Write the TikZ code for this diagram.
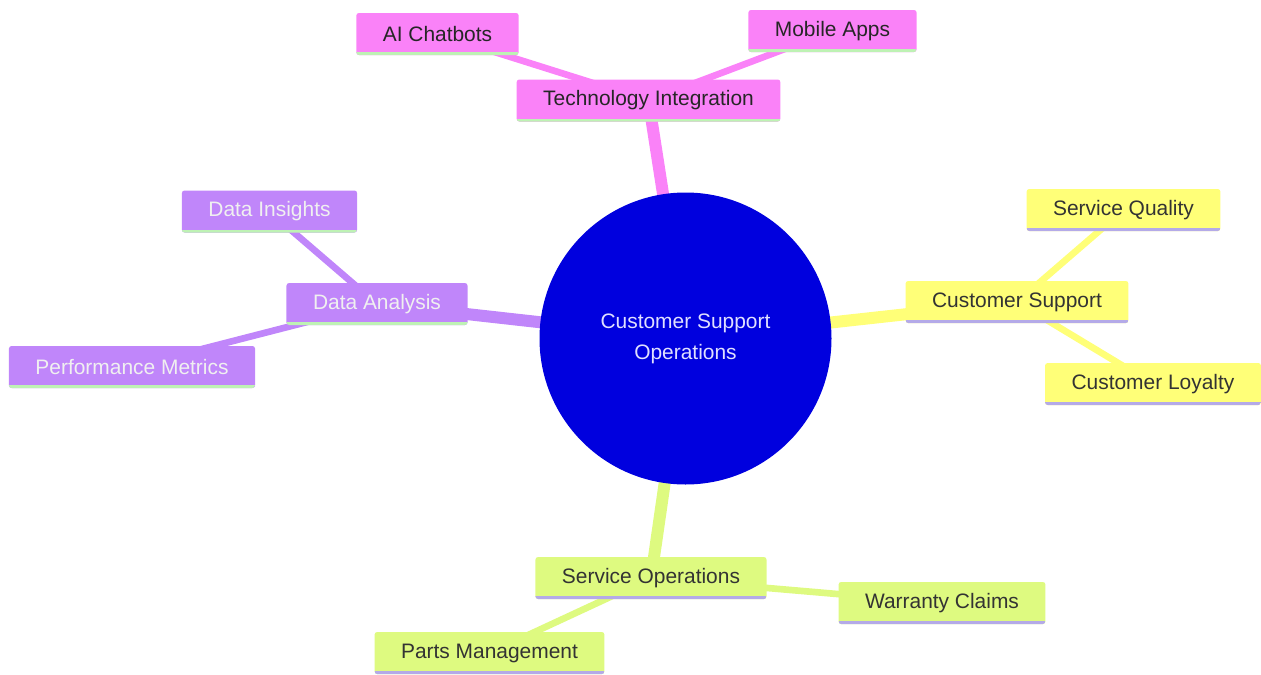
\documentclass[tikz,border=0pt]{standalone}
\usepackage{fontspec}
\setmainfont{Liberation Sans}
\usepackage{xcolor}
\definecolor{rootc}{RGB}{0,0,222}
\definecolor{techc}{RGB}{250,130,248}
\definecolor{datac}{RGB}{192,134,250}
\definecolor{suppc}{RGB}{255,255,120}
\definecolor{opsc}{RGB}{222,250,128}
\definecolor{mintline}{RGB}{190,242,180}
\definecolor{lavline}{RGB}{180,170,232}
\usepackage{tikz}
\usetikzlibrary{backgrounds}
\tikzstyle{leaf} = [rectangle,rounded corners=2pt,inner xsep=19.9pt,inner ysep=0pt,minimum height=31.5pt,font=\fontsize{15.7}{19}\selectfont]
\tikzstyle{tech} = [leaf,fill=techc,text=black!85,path picture={\draw[mintline,line width=4.5pt] (path picture bounding box.south west) -- (path picture bounding box.south east);}]
\tikzstyle{data} = [leaf,fill=datac,text=white!94!black,path picture={\draw[mintline,line width=4.5pt] (path picture bounding box.south west) -- (path picture bounding box.south east);}]
\tikzstyle{supp} = [leaf,fill=suppc,text=black!80,path picture={\draw[lavline,line width=4.5pt] (path picture bounding box.south west) -- (path picture bounding box.south east);}]
\tikzstyle{ops} = [leaf,fill=opsc,text=black!80,path picture={\draw[lavline,line width=4.5pt] (path picture bounding box.south west) -- (path picture bounding box.south east);}]
\tikzstyle{trunk} = [line width=9pt]
\tikzstyle{twig} = [line width=5pt]

\begin{document}
\begin{tikzpicture}[x=0.75pt,y=-0.75pt]
    \useasboundingbox (0,0) rectangle (1261,675);
    \node[circle,fill=rootc,minimum size=219pt,inner sep=0pt,text=blue!12!white,align=center,font=\fontsize{15.7}{23.25}\selectfont] (root) at (685.5,338.5) {Customer Support\\Operations};
    \node[tech] (techint) at (648.5,100.5) {Technology Integration};
    \node[tech] (chatbots) at (437.5,34) {AI Chatbots};
    \node[tech] (mobile) at (832.5,31) {Mobile Apps};
    \node[data] (analysis) at (377,304) {Data Analysis};
    \node[data] (insights) at (269.5,211.5) {Data Insights};
    \node[data] (metrics) at (132,367) {Performance Metrics};
    \node[supp] (support) at (1017,302) {Customer Support};
    \node[supp] (quality) at (1123.5,210) {Service Quality};
    \node[supp] (loyalty) at (1153,384) {Customer Loyalty};
    \node[ops] (serviceops) at (651,578) {Service Operations};
    \node[ops] (warranty) at (942,603) {Warranty Claims};
    \node[ops] (parts) at (489.5,653) {Parts Management};
    \begin{scope}[on background layer]
        \foreach \b/\c in {techint/techc,analysis/datac,support/suppc,serviceops/opsc} {
            \draw[trunk,\c] (root.center) -- (\b.center);
        }
        \foreach \a/\b/\c in {techint/chatbots/techc,techint/mobile/techc,analysis/insights/datac,analysis/metrics/datac,support/quality/suppc,support/loyalty/suppc,serviceops/warranty/opsc,serviceops/parts/opsc} {
            \draw[twig,\c] (\a.center) -- (\b.center);
        }
    \end{scope}
\end{tikzpicture}
\end{document}
